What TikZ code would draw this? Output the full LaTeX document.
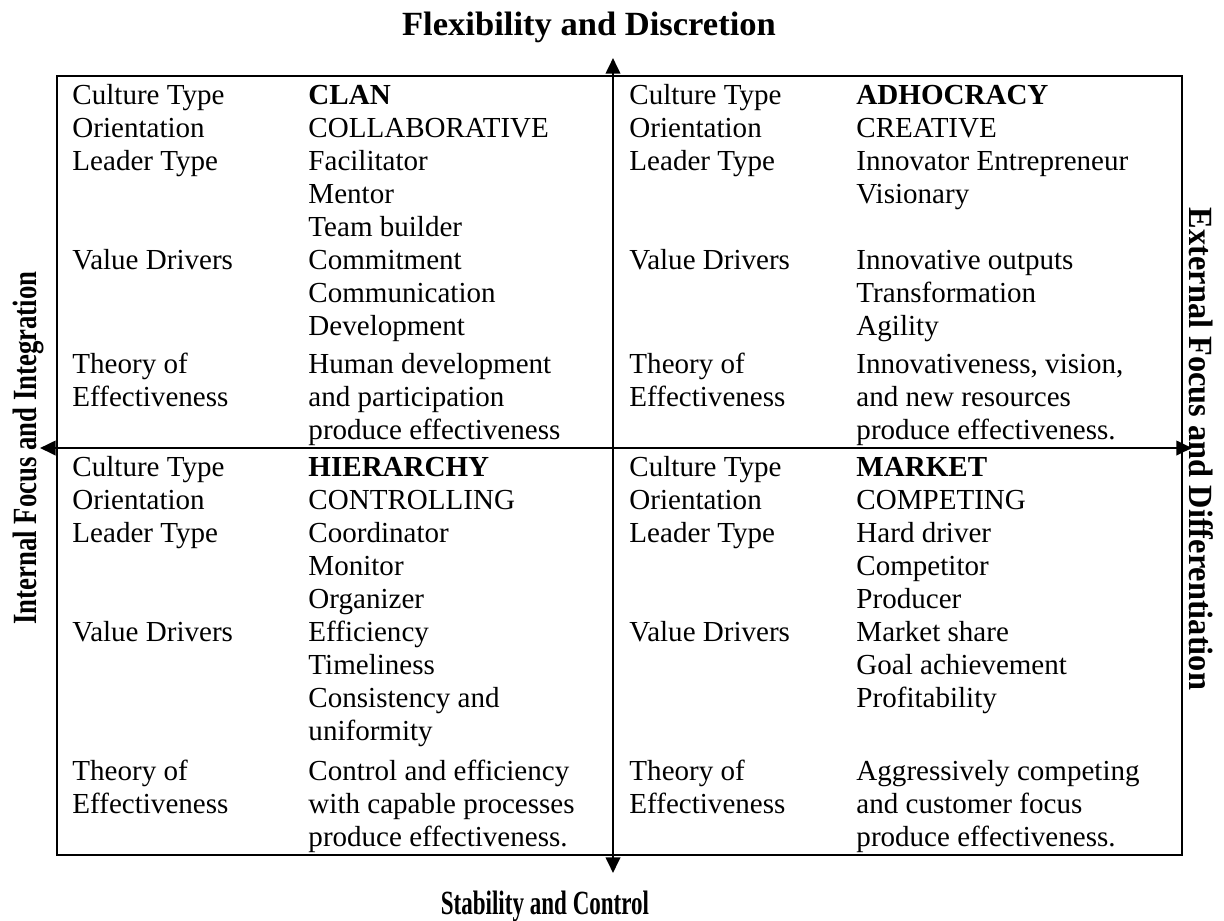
\documentclass[tikz,border=0pt]{standalone}
\usepackage{fontspec}
\setmainfont{Liberation Serif}
\usetikzlibrary{arrows.meta}
\begin{document}
\begin{tikzpicture}[x=0.4132pt,y=-0.4132pt,
  txt/.style={anchor=base west,inner sep=0pt,font=\fontsize{12pt}{14pt}\selectfont},
  axis/.style={line width=1pt},
  arr/.style={line width=1pt,-{Triangle[length=6.5pt,width=6pt]}},
  lab/.style={inner sep=0pt,font=\fontsize{14pt}{16pt}\selectfont\bfseries}]
\useasboundingbox (0,0) rectangle (1224,920);
% frame and dividers
\coordinate (NW) at (57,76);
\coordinate (SE) at (1182,855);
\coordinate (mt) at (613,76);
\coordinate (mb) at (613,855);
\coordinate (ml) at (57,448);
\coordinate (mr) at (1182,448);
\coordinate (ut) at (613,58);
\coordinate (dt) at (613,873);
\coordinate (la) at (78,448);
\coordinate (lt) at (40,448);
\coordinate (ra) at (1163,448);
\coordinate (rt) at (1192,448);
\draw[axis] (NW) rectangle (SE);
\draw[axis] (mt) -- (mb);
\draw[axis] (ml) -- (mr);
\draw[arr] (mt) -- (ut);
\draw[arr] (mb) -- (dt);
\draw[arr] (la) -- (lt);
\draw[arr] (ra) -- (rt);
% top-left: CLAN
\foreach \y/\t [count=\n] in {104/{Culture Type},137/Orientation,170/{Leader Type},269/{Value Drivers},373/{Theory of},406/Effectiveness}
  \node[txt] (tll\n) at (72,\y) {\t};
\foreach \y/\t [count=\n] in {104/{\textbf{CLAN}},137/COLLABORATIVE,170/Facilitator,203/Mentor,236/{Team builder},269/Commitment,302/Communication,335/Development,373/{Human development},406/{and participation},439/{produce effectiveness}}
  \node[txt] (tlv\n) at (308,\y) {\t};
% top-right: ADHOCRACY
\foreach \y/\t [count=\n] in {104/{Culture Type},137/Orientation,170/{Leader Type},269/{Value Drivers},373/{Theory of},406/Effectiveness}
  \node[txt] (trl\n) at (629,\y) {\t};
\foreach \y/\t [count=\n] in {104/{\textbf{ADHOCRACY}},137/CREATIVE,170/{Innovator Entrepreneur},203/Visionary,269/{Innovative outputs},302/Transformation,335/Agility,373/{Innovativeness, vision,},406/{and new resources},439/{produce effectiveness.}}
  \node[txt] (trv\n) at (856,\y) {\t};
% bottom-left: HIERARCHY
\foreach \y/\t [count=\n] in {476/{Culture Type},509/Orientation,542/{Leader Type},641/{Value Drivers},780/{Theory of},813/Effectiveness}
  \node[txt] (bll\n) at (72,\y) {\t};
\foreach \y/\t [count=\n] in {476/{\textbf{HIERARCHY}},509/CONTROLLING,542/Coordinator,575/Monitor,608/Organizer,641/Efficiency,674/Timeliness,707/{Consistency and},740/uniformity,780/{Control and efficiency},813/{with capable processes},846/{produce effectiveness.}}
  \node[txt] (blv\n) at (308,\y) {\t};
% bottom-right: MARKET
\foreach \y/\t [count=\n] in {476/{Culture Type},509/Orientation,542/{Leader Type},641/{Value Drivers},780/{Theory of},813/Effectiveness}
  \node[txt] (brl\n) at (629,\y) {\t};
\foreach \y/\t [count=\n] in {476/{\textbf{MARKET}},509/COMPETING,542/{Hard driver},575/Competitor,608/Producer,641/{Market share},674/{Goal achievement},707/Profitability,780/{Aggressively competing},813/{and customer focus},846/{produce effectiveness.}}
  \node[txt] (brv\n) at (856,\y) {\t};
% axis labels
\node[lab,anchor=base,xscale=1.02] (toplab) at (589,35) {Flexibility and Discretion};
\node[lab,anchor=base,xscale=0.68] (botlab) at (545,914) {Stability and Control};
\node[lab,anchor=base,rotate=90,xscale=0.79] (leftlab) at (36,448) {Internal Focus and Integration};
\node[lab,anchor=base,rotate=-90,xscale=0.955] (rightlab) at (1189,449) {External Focus and Differentiation};
\end{tikzpicture}
\end{document}
